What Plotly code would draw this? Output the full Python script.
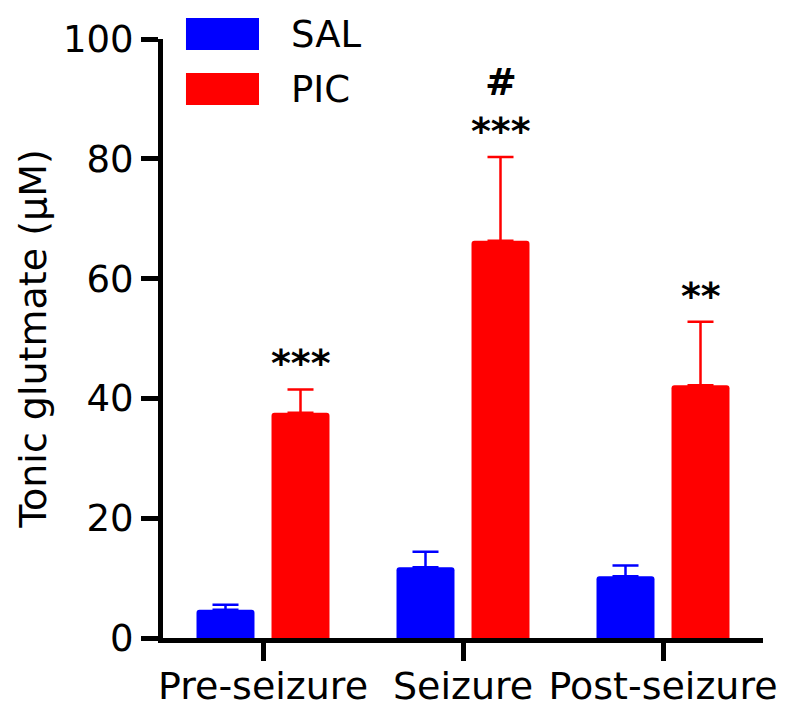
import plotly.graph_objects as go

categories = ["Pre-seizure", "Seizure", "Post-seizure"]
sal_values = [4.7, 11.8, 10.3]
sal_errors = [0.85, 2.6, 1.8]
pic_values = [37.6, 66.3, 42.2]
pic_errors = [3.9, 14.0, 10.6]
pic_marks = ["***", "#<br>***", "**"]
y_ticks = [0, 20, 40, 60, 80, 100]

FONT = "DejaVu Sans"
BLUE = "#0000FF"
RED = "#FF0000"

fig = go.Figure()
fig.add_trace(go.Bar(
    x=categories, y=sal_values, name="SAL",
    marker=dict(color=BLUE, line=dict(width=0), cornerradius=3),
    error_y=dict(type="data", array=sal_errors, arrayminus=[0]*3, symmetric=False,
                 color=BLUE, thickness=2.5, width=13),
))
fig.add_trace(go.Bar(
    x=categories, y=pic_values, name="PIC",
    marker=dict(color=RED, line=dict(width=0), cornerradius=3),
    error_y=dict(type="data", array=pic_errors, arrayminus=[0]*3, symmetric=False,
                 color=RED, thickness=2.5, width=13),
))

# significance marks
for cat, v, e, m in zip(categories, pic_values, pic_errors, pic_marks):
    fig.add_annotation(x=cat, y=v + e, text=m, showarrow=False, xshift=38,
                       yanchor="bottom", yshift=2,
                       font=dict(family=FONT, size=38, color="black", weight="bold"))

# legend drawn manually
legend_items = [("SAL", BLUE, 1.035), ("PIC", RED, 0.9432)]
for name, col, ytop in legend_items:
    fig.add_shape(type="rect", xref="paper", yref="paper",
                  x0=0.0383, x1=0.16, y0=ytop - 0.0534, y1=ytop,
                  fillcolor=col, line=dict(width=0))
    fig.add_annotation(xref="paper", yref="paper", x=0.21, y=ytop - 0.0267,
                       text=name, showarrow=False, xanchor="left", yanchor="middle",
                       font=dict(family=FONT, size=37, color="black"))

fig.update_layout(
    width=800, height=719,
    margin=dict(l=155, r=45, t=31, b=89),
    paper_bgcolor="white", plot_bgcolor="white",
    barmode="group", bargap=0.25, bargroupgap=0.227,
    showlegend=False,
    font=dict(family=FONT, color="black"),
)
fig.update_xaxes(
    range=[-0.5, 2.5], showline=True, linecolor="black", linewidth=5,
    ticks="outside", ticklen=18, tickwidth=5, tickcolor="black",
    tickfont=dict(family=FONT, size=38, color="black"),
    ticklabelstandoff=-8,
    showgrid=False, zeroline=False,
)
fig.update_yaxes(
    range=[0, 100], tickvals=y_ticks, showline=True, linecolor="black", linewidth=5,
    ticks="outside", ticklen=17, tickwidth=5, tickcolor="black",
    tickfont=dict(family=FONT, size=37, color="black"),
    showgrid=False, zeroline=False,
    title=dict(text="Tonic glutmate (μM)", font=dict(family=FONT, size=38, color="black"),
               standoff=6),
    automargin=False,
)

fig.write_html("out.html")
